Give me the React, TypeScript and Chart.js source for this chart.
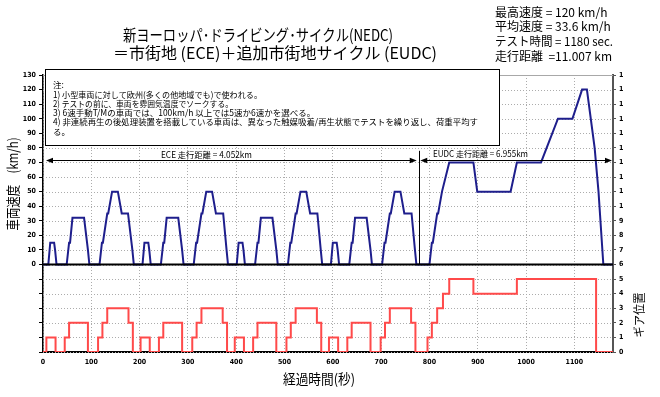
import React, { useEffect, useRef } from 'react';
import { Chart, registerables } from 'chart.js';

Chart.register(...registerables);

// Cycle layout (s)
const eceStarts = [0, 195, 390, 585];
const eudcStart = 780;
const cycleEnd = 1180;

// ECE urban cycle: breakpoints (s from cycle start) and speed (km/h)
const eceSpeedTimes = [0, 11, 15, 23, 25, 28, 49, 54, 56, 61, 85, 93, 96, 117, 122, 124, 133, 135, 143, 155, 163, 176, 178, 185, 188, 195];
const eceSpeeds = [0, 0, 15, 15, 10, 0, 0, 15, 15, 32, 32, 10, 0, 0, 15, 15, 35, 35, 50, 50, 35, 35, 35, 10, 0, 0];

// EUDC extra-urban cycle: breakpoints (s from cycle start) and speed (km/h)
const eudcSpeedTimes = [0, 20, 25, 27, 36, 38, 46, 48, 61, 111, 119, 188, 201, 251, 286, 316, 336, 346, 362, 370, 380, 400];
const eudcSpeeds = [0, 0, 15, 15, 35, 35, 50, 50, 70, 70, 50, 50, 70, 70, 100, 100, 120, 120, 80, 50, 0, 0];

// Gear selected from each time onwards
const eceGearTimes = [0, 7, 26, 45, 54, 93, 114, 123, 133, 177, 186];
const eceGears = [0, 1, 0, 1, 2, 0, 1, 2, 3, 2, 0];
const eudcGearTimes = [0, 16, 25, 36, 48, 61, 111, 201, 365];
const eudcGears = [0, 1, 2, 3, 4, 5, 4, 5, 0];

// Axis ranges
const speedAxis = { min: -60, max: 130, step: 10 };
const gearAxis = { min: 0, max: 19, step: 1 };
const timeAxis = { min: 0, max: cycleEnd, step: 100 };

// Texts
const titleLines = ['新ヨーロッパ･ドライビング･サイクル(NEDC)', '＝市街地 (ECE)＋追加市街地サイクル (EUDC)'];
const statLines = ['最高速度 = 120 km/h', '平均速度 = 33.6 km/h', 'テスト時間 = 1180 sec.', '走行距離  =11.007 km'];
const noteLines = [
  '注:',
  '1) 小型車両に対して欧州(多くの他地域でも)で使われる。',
  '2) テストの前に、車両を雰囲気温度でソークする。',
  '3) 6速手動T/Mの車両では、100km/h 以上では5速か6速かを選べる。',
  '4) 非連続再生の後処理装置を搭載している車両は、異なった触媒吸着/再生状態でテストを繰り返し、荷重平均す',
  'る。',
];
const eceLabel = 'ECE 走行距離 = 4.052km';
const eudcLabel = 'EUDC 走行距離 = 6.955km';
const xTitle = '経過時間(秒)';
const speedTitle = '車両速度　(km/h)';
const gearTitle = 'ギア位置';

// Band markers on the speed scale
const bandArrowSpeed = 72;
const dividerTopSpeed = 78;

function buildSpeedPoints() {
  const pts: { x: number; y: number }[] = [];
  eceStarts.forEach((s) => {
    eceSpeedTimes.forEach((t, i) => pts.push({ x: s + t, y: eceSpeeds[i] }));
  });
  eudcSpeedTimes.forEach((t, i) => pts.push({ x: eudcStart + t, y: eudcSpeeds[i] }));
  return pts;
}

function buildGearPoints() {
  const pts: { x: number; y: number }[] = [];
  eceStarts.forEach((s) => {
    eceGearTimes.forEach((t, i) => pts.push({ x: s + t, y: eceGears[i] }));
  });
  eudcGearTimes.forEach((t, i) => pts.push({ x: eudcStart + t, y: eudcGears[i] }));
  pts.push({ x: cycleEnd, y: 0 });
  return pts;
}

const JP = '"Noto Sans CJK JP", "Noto Sans", sans-serif';
const TICK_FONT = { family: '"Liberation Sans Narrow", "DejaVu Sans Condensed", "Liberation Sans", sans-serif', size: 7, weight: 'bold' as const };
const GRID = '#acacac';

function drawArrow(ctx: CanvasRenderingContext2D, x1: number, x2: number, y: number) {
  const hl = 7;
  const hw = 2.8;
  ctx.beginPath();
  ctx.moveTo(x1 + hl - 1, y);
  ctx.lineTo(x2 - hl + 1, y);
  ctx.stroke();
  ctx.beginPath();
  ctx.moveTo(x1, y);
  ctx.lineTo(x1 + hl, y - hw);
  ctx.lineTo(x1 + hl, y + hw);
  ctx.closePath();
  ctx.fill();
  ctx.beginPath();
  ctx.moveTo(x2, y);
  ctx.lineTo(x2 - hl, y - hw);
  ctx.lineTo(x2 - hl, y + hw);
  ctx.closePath();
  ctx.fill();
}

const decorations = {
  id: 'decorations',
  beforeDatasetsDraw(chart: any) {
    const { ctx, chartArea: a, scales } = chart;
    const ys = scales.ySpeed;
    ctx.save();
    // horizontal dotted grid, one row per speed tick
    ctx.strokeStyle = GRID;
    ctx.lineWidth = 1;
    ctx.setLineDash([1, 2]);
    ys.ticks.forEach((t: any) => {
      const y = Math.round(ys.getPixelForValue(t.value)) + 0.5;
      ctx.beginPath();
      ctx.moveTo(a.left, y);
      ctx.lineTo(a.right, y);
      ctx.stroke();
    });
    ctx.setLineDash([]);
    // top frame line
    ctx.strokeStyle = '#a8a8a8';
    ctx.beginPath();
    ctx.moveTo(a.left, Math.round(a.top) + 0.5);
    ctx.lineTo(a.right, Math.round(a.top) + 0.5);
    ctx.stroke();
    ctx.restore();
  },
  afterDatasetsDraw(chart: any) {
    const { ctx, chartArea: a, scales } = chart;
    const xs = scales.x;
    const ys = scales.ySpeed;
    const y0 = ys.getPixelForValue(0);
    ctx.save();
    // zero-speed baseline
    ctx.strokeStyle = '#000';
    ctx.lineWidth = 2;
    ctx.beginPath();
    ctx.moveTo(a.left, y0);
    ctx.lineTo(a.right, y0);
    ctx.stroke();

    // ECE / EUDC divider
    const xd = xs.getPixelForValue(eudcStart) - 1;
    ctx.lineWidth = 1;
    ctx.beginPath();
    ctx.moveTo(Math.round(xd) + 0.5, ys.getPixelForValue(dividerTopSpeed));
    ctx.lineTo(Math.round(xd) + 0.5, y0);
    ctx.stroke();

    // distance arrows
    const ya = Math.round(ys.getPixelForValue(bandArrowSpeed)) + 0.5;
    ctx.fillStyle = '#000';
    drawArrow(ctx, xs.getPixelForValue(0) + 3, xd - 2, ya);
    drawArrow(ctx, xd + 1.5, xs.getPixelForValue(cycleEnd) - 1, ya);

    ctx.font = `8.5px ${JP}`;
    ctx.textBaseline = 'middle';
    ctx.textAlign = 'left';
    ctx.fillText(eceLabel, 161, 154.5, 91);
    ctx.fillText(eudcLabel, 433, 154, 95);
    ctx.restore();
  },
  afterDraw(chart: any) {
    const { ctx } = chart;
    ctx.save();
    // notes box
    ctx.fillStyle = '#fff';
    ctx.fillRect(45, 69, 454, 76);
    ctx.strokeStyle = '#000';
    ctx.lineWidth = 1;
    ctx.strokeRect(45.5, 69.5, 454, 76);
    ctx.fillStyle = '#000';
    ctx.font = `8.5px ${JP}`;
    ctx.textBaseline = 'middle';
    ctx.textAlign = 'left';
    const noteWidths = [20, 209, 180, 267, 425, 20];
    noteLines.forEach((line, i) => {
      ctx.fillText(line, 53, 85 + i * 9.3, noteWidths[i]);
    });

    // title
    ctx.font = `16px ${JP}`;
    ctx.fillText(titleLines[0], 123, 35, 270);
    ctx.fillText(titleLines[1], 113, 53, 327);

    // summary figures
    ctx.font = `12px ${JP}`;
    statLines.forEach((line, i) => {
      ctx.fillText(line, 495, 12 + i * 14.7, 118);
    });

    // axis titles
    ctx.font = `14px ${JP}`;
    ctx.textAlign = 'center';
    ctx.fillText(xTitle, 319, 379, 72);

    ctx.save();
    ctx.translate(13, 184);
    ctx.rotate(-Math.PI / 2);
    ctx.fillText(speedTitle, 0, 0, 93);
    ctx.restore();

    ctx.save();
    ctx.font = `12px ${JP}`;
    ctx.translate(639, 315);
    ctx.rotate(-Math.PI / 2);
    ctx.fillText(gearTitle, 0, 0, 45);
    ctx.restore();

    ctx.restore();
  },
};

export default function App() {
  const ref = useRef<HTMLCanvasElement>(null);

  useEffect(() => {
    if (!ref.current) return;
    const chart = new Chart(ref.current, {
      type: 'line',
      data: {
        datasets: [
          {
            label: '車両速度',
            data: buildSpeedPoints(),
            yAxisID: 'ySpeed',
            borderColor: '#1e1e8c',
            borderWidth: 2,
            pointRadius: 0,
            tension: 0,
          },
          {
            label: 'ギア位置',
            data: buildGearPoints(),
            yAxisID: 'yGear',
            borderColor: '#ff4a4a',
            borderWidth: 2,
            pointRadius: 0,
            stepped: true,
          },
        ],
      },
      options: {
        animation: false,
        responsive: false,
        maintainAspectRatio: false,
        devicePixelRatio: 1,
        parsing: false,
        layout: { padding: { top: 75, left: 0, right: 0, bottom: 0 } },
        plugins: { legend: { display: false }, tooltip: { enabled: false }, title: { display: false } },
        scales: {
          x: {
            type: 'linear',
            min: timeAxis.min,
            max: timeAxis.max,
            ticks: {
              stepSize: timeAxis.step,
              includeBounds: false,
              padding: 6,
              font: TICK_FONT,
              color: '#000',
              maxRotation: 0,
              autoSkip: false,
              callback: (v: any) => String(v),
            },
            grid: { color: GRID, drawTicks: false, lineWidth: 1 },
            border: { color: '#000', width: 2, dash: [1, 2] },
            afterFit: (s: any) => {
              s.height = 45;
            },
          },
          ySpeed: {
            type: 'linear',
            position: 'left',
            min: speedAxis.min,
            max: speedAxis.max,
            ticks: {
              stepSize: speedAxis.step,
              padding: 3,
              font: TICK_FONT,
              color: '#000',
              autoSkip: false,
              callback: (v: any) => (Number(v) >= 0 ? String(v) : ''),
            },
            grid: { drawOnChartArea: false, tickColor: '#000', tickLength: 4, tickBorderDash: [] },
            border: { color: '#000', width: 1.5 },
            afterFit: (s: any) => {
              s.width = 43;
            },
          },
          yGear: {
            type: 'linear',
            position: 'right',
            min: gearAxis.min,
            max: gearAxis.max,
            ticks: {
              stepSize: gearAxis.step,
              padding: 3,
              font: TICK_FONT,
              color: '#000',
              autoSkip: false,
              callback: (v: any) => {
                const s = String(v);
                return Number(v) <= 9 ? s : s[0];
              },
            },
            grid: { drawOnChartArea: false, tickColor: '#555', tickLength: 3 },
            border: { color: '#555', width: 2 },
            afterFit: (s: any) => {
              s.width = 47;
            },
          },
        },
      },
      plugins: [decorations],
    } as any);
    return () => chart.destroy();
  }, []);

  return (
    <div style={{ position: 'fixed', left: 0, top: 0, width: 660, height: 397, background: '#fff' }}>
      <canvas ref={ref} width={660} height={397} style={{ display: 'block' }} />
    </div>
  );
}
